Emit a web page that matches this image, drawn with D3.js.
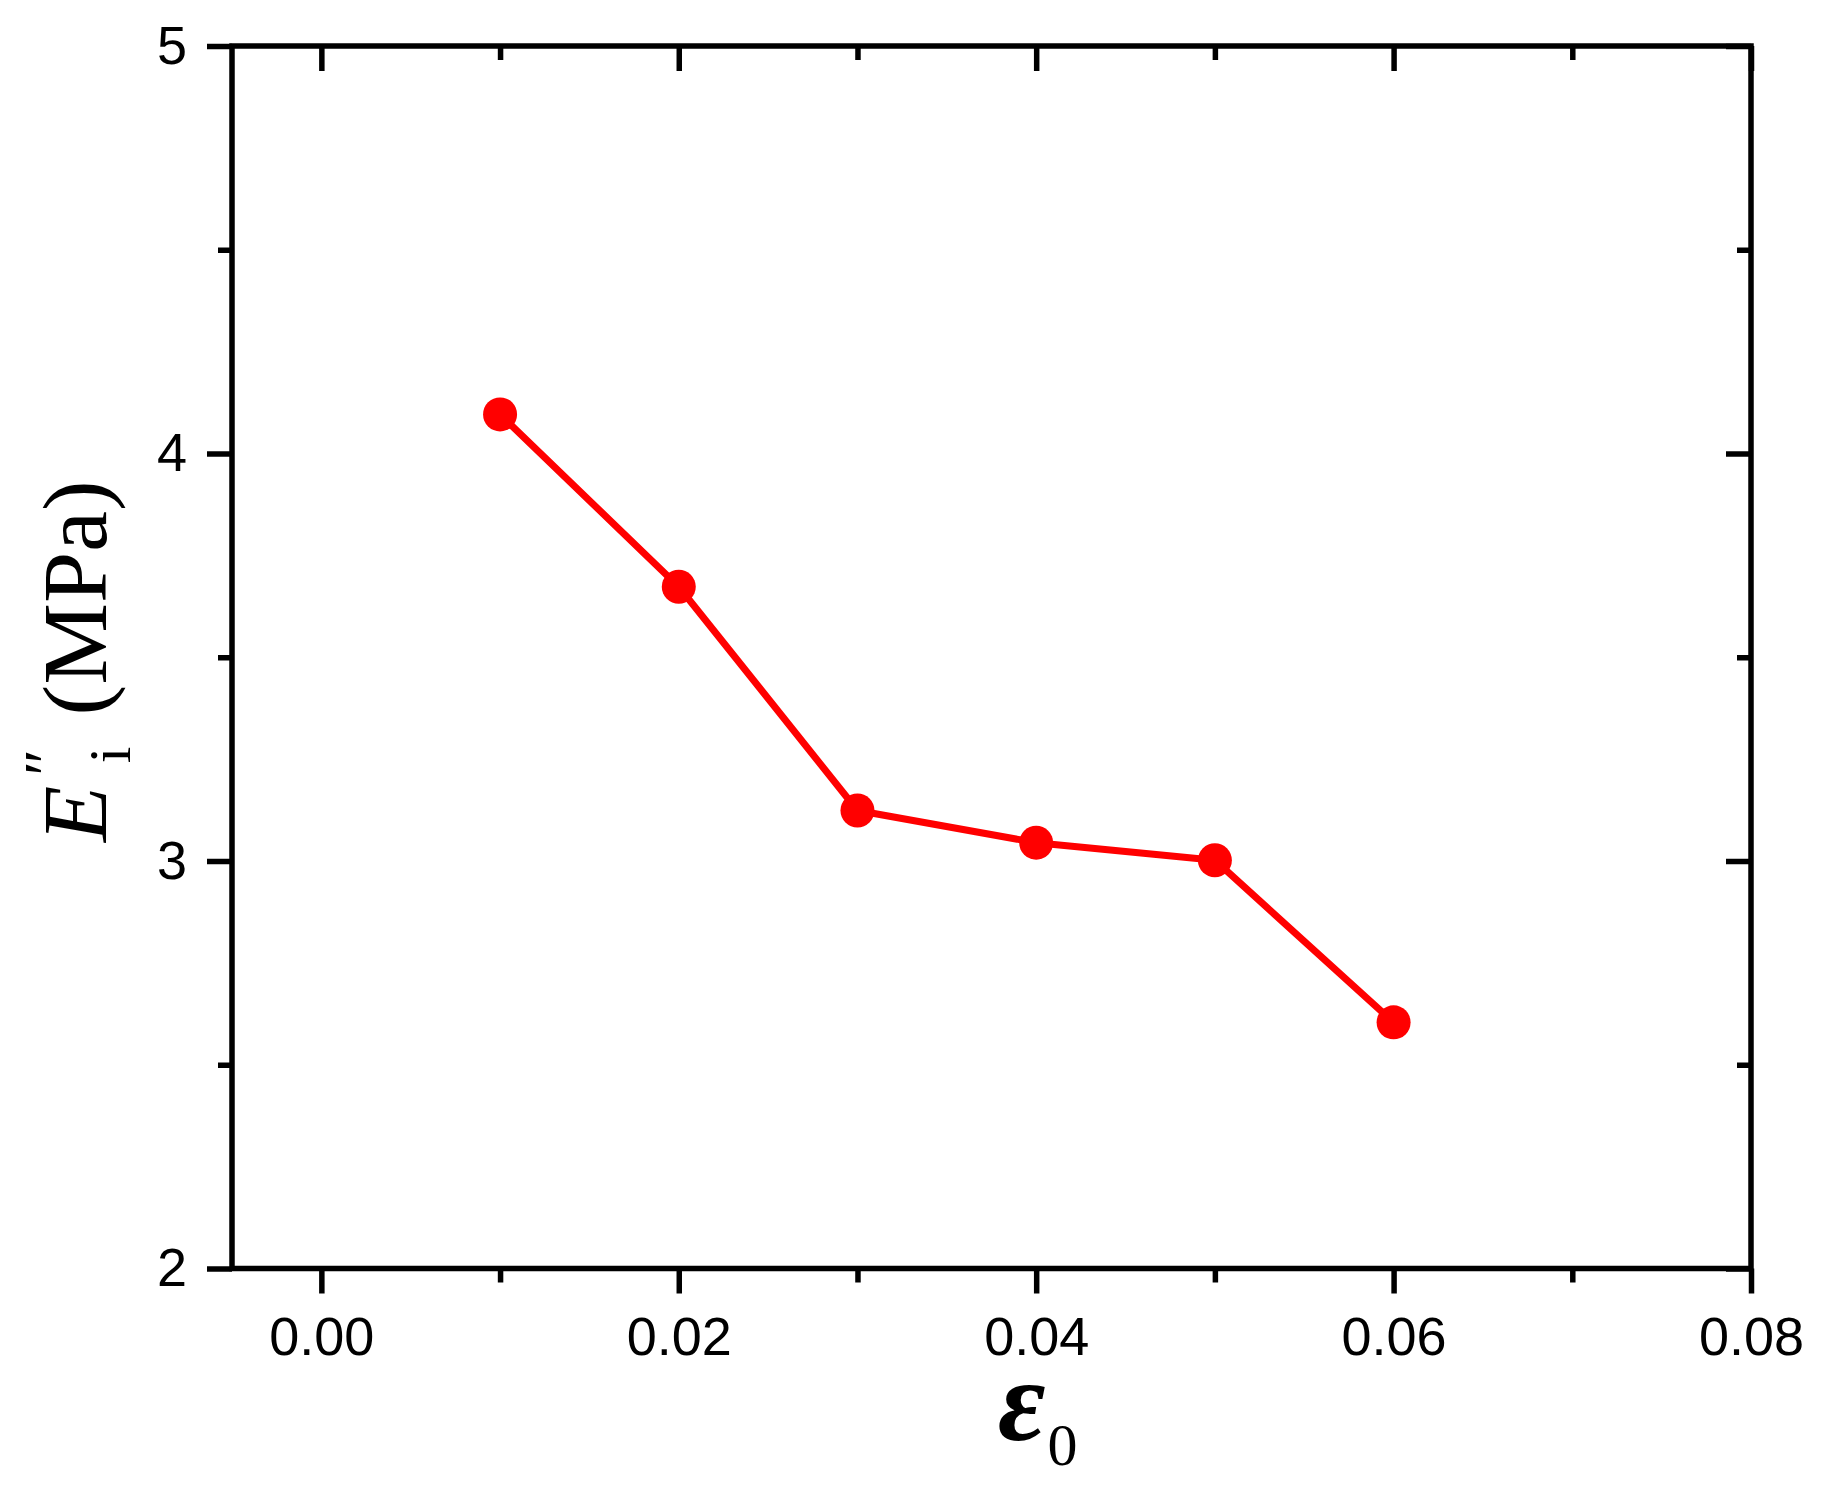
<!DOCTYPE html>
<html>
<head>
<meta charset="utf-8">
<script src="https://cdn.jsdelivr.net/npm/d3@7"></script>
<style>
  html, body { margin: 0; padding: 0; background: #fff; }
  svg { display: block; }
</style>
</head>
<body>
<script>
// ---- data ----
const strain = [0.01, 0.02, 0.03, 0.04, 0.05, 0.06];
const modulus = [4.096, 3.673, 3.124, 3.045, 3.002, 2.604];
const xMajorTicks = [0.00, 0.02, 0.04, 0.06, 0.08];
const xMinorTicks = [0.01, 0.03, 0.05, 0.07];
const yMajorTicks = [2, 3, 4, 5];
const yMinorTicks = [2.5, 3.5, 4.5];
const xDomain = [-0.005, 0.08];
const yDomain = [2, 5];

const W = 1826, H = 1485;
const L = 232, R = 1751, T = 46, B = 1268.5;
const axisW = 5.5, majorLen = 25, minorLen = 14;
const sans = "'Liberation Sans', Arial, sans-serif";
const serif = "'Liberation Serif', 'Times New Roman', serif";

const svg = d3.select("body").append("svg").attr("width", W).attr("height", H);

const x = d3.scaleLinear().domain(xDomain).range([L, R]);
const y = d3.scaleLinear().domain(yDomain).range([B, T]);

function styleAxis(g) {
  g.select(".domain").remove();
  g.selectAll(".tick line").attr("stroke", "#000").attr("stroke-width", axisW);
}

// bottom major (outward)
const gb = svg.append("g").attr("transform", `translate(0,${B})`)
  .call(d3.axisBottom(x).tickValues(xMajorTicks).tickSize(majorLen).tickSizeOuter(0)
    .tickFormat(d3.format(".2f")));
styleAxis(gb);
gb.selectAll(".tick text").attr("font-family", sans).attr("font-size", 54)
  .attr("fill", "#000").attr("dy", null).attr("y", 86);
// bottom minor
const gbm = svg.append("g").attr("transform", `translate(0,${B})`)
  .call(d3.axisBottom(x).tickValues(xMinorTicks).tickSize(minorLen).tickSizeOuter(0).tickFormat(""));
styleAxis(gbm);
// top (inward)
const gt = svg.append("g").attr("transform", `translate(0,${T})`)
  .call(d3.axisBottom(x).tickValues(xMajorTicks).tickSize(majorLen).tickSizeOuter(0).tickFormat(""));
styleAxis(gt);
const gtm = svg.append("g").attr("transform", `translate(0,${T})`)
  .call(d3.axisBottom(x).tickValues(xMinorTicks).tickSize(minorLen).tickSizeOuter(0).tickFormat(""));
styleAxis(gtm);

// left major (outward)
const gl = svg.append("g").attr("transform", `translate(${L},0)`)
  .call(d3.axisLeft(y).tickValues(yMajorTicks).tickSize(majorLen).tickSizeOuter(0)
    .tickFormat(d3.format("d")));
styleAxis(gl);
gl.selectAll(".tick text").attr("font-family", sans).attr("font-size", 54)
  .attr("fill", "#000").attr("dy", null).attr("x", -45).attr("y", 17);
const glm = svg.append("g").attr("transform", `translate(${L},0)`)
  .call(d3.axisLeft(y).tickValues(yMinorTicks).tickSize(minorLen).tickSizeOuter(0).tickFormat(""));
styleAxis(glm);
// right (inward)
const gr = svg.append("g").attr("transform", `translate(${R},0)`)
  .call(d3.axisLeft(y).tickValues(yMajorTicks).tickSize(majorLen).tickSizeOuter(0).tickFormat(""));
styleAxis(gr);
const grm = svg.append("g").attr("transform", `translate(${R},0)`)
  .call(d3.axisLeft(y).tickValues(yMinorTicks).tickSize(minorLen).tickSizeOuter(0).tickFormat(""));
styleAxis(grm);

// frame
svg.append("rect").attr("x", L).attr("y", T).attr("width", R - L).attr("height", B - T)
  .attr("fill", "none").attr("stroke", "#000").attr("stroke-width", axisW)
  .attr("stroke-linejoin", "miter");

// data line + points
const pts = strain.map((s, i) => [s, modulus[i]]);
svg.append("path").datum(pts)
  .attr("d", d3.line().x(d => x(d[0])).y(d => y(d[1])))
  .attr("fill", "none").attr("stroke", "#ff0000").attr("stroke-width", 7)
  .attr("stroke-linejoin", "round");
svg.append("g").selectAll("circle").data(pts).join("circle")
  .attr("cx", d => x(d[0])).attr("cy", d => y(d[1])).attr("r", 17)
  .attr("fill", "#ff0000");

// y title
const yt = svg.append("text").attr("transform", "translate(106,842) rotate(-90)")
  .attr("font-family", serif).attr("fill", "#000").attr("font-size", 92);
yt.append("tspan").attr("font-style", "italic").text("E");
yt.append("tspan").attr("font-style", "italic").attr("font-size", 64)
  .attr("dx", 6).attr("dy", -38).text("\u2033");
yt.append("tspan").attr("font-size", 60).attr("dx", -10).attr("dy", 62).text("i");
yt.append("tspan").attr("dx", 8).attr("dy", -24).text(" (MPa)");

// x title
const xt = svg.append("text").attr("x", 998).attr("y", 1440)
  .attr("font-family", serif).attr("fill", "#000");
xt.append("tspan").attr("font-style", "italic").attr("font-weight", "bold")
  .attr("font-size", 116).text("\u03b5");
xt.append("tspan").attr("font-size", 60).attr("dx", 2).attr("dy", 25).text("0");
</script>
</body>
</html>
